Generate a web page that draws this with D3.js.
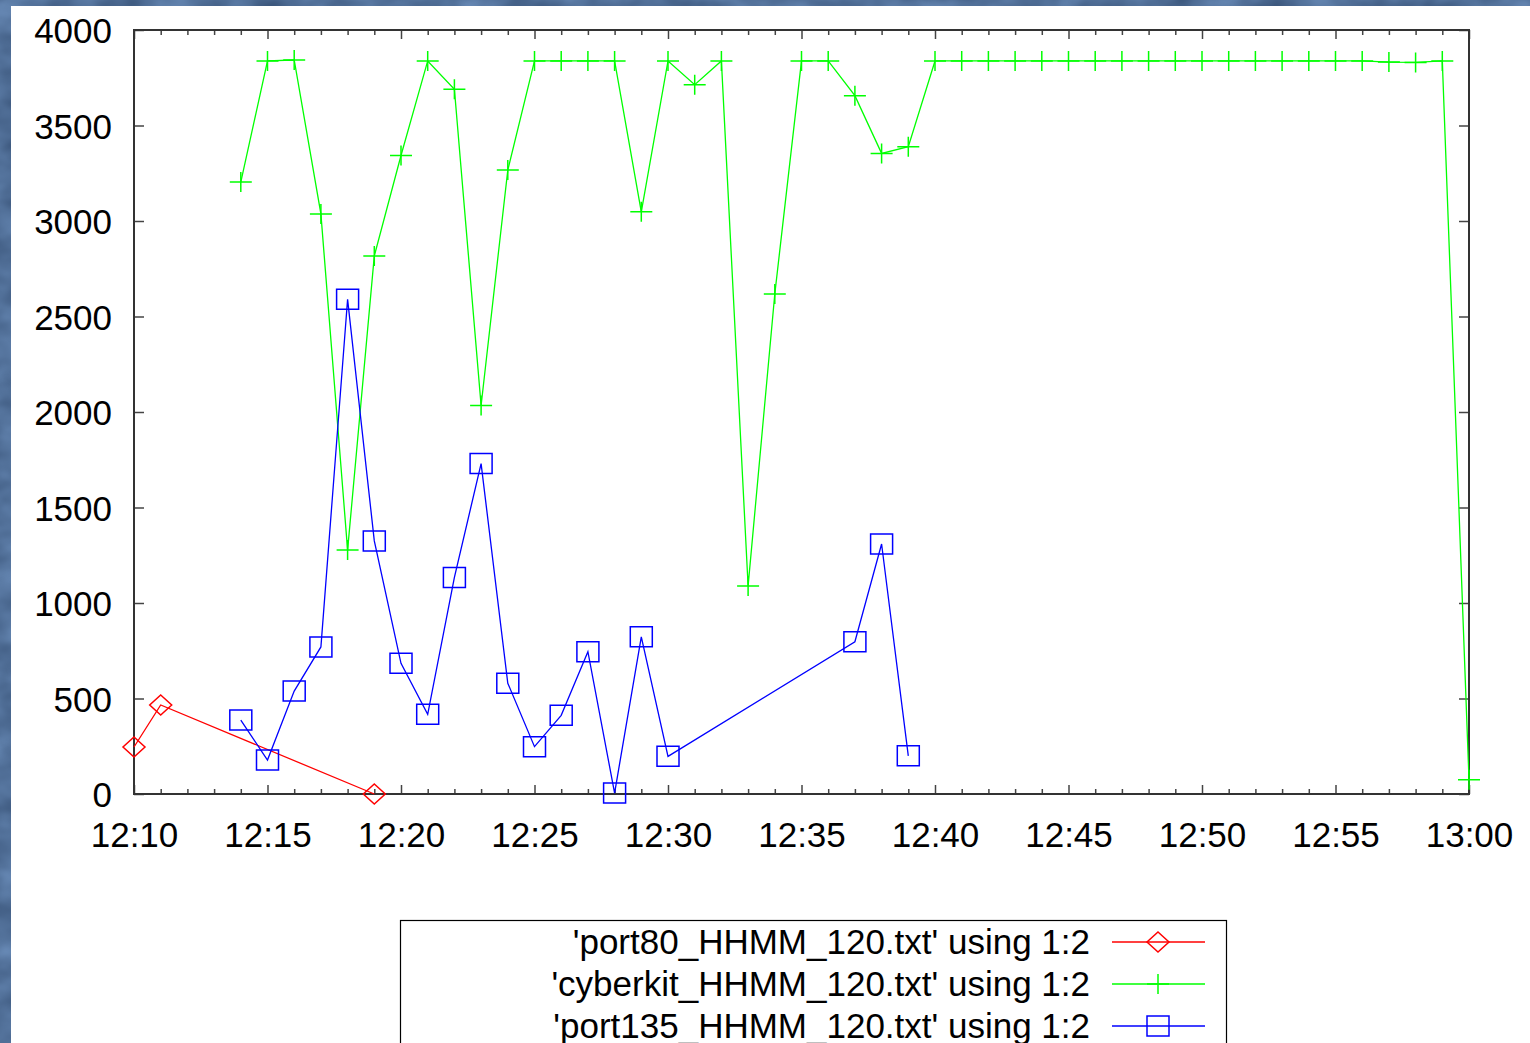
<!DOCTYPE html>
<html>
<head>
<meta charset="utf-8">
<script src="https://cdn.jsdelivr.net/npm/d3@7"></script>
<style>
  html, body { margin: 0; padding: 0; background: #fff; }
  svg { display: block; }
  text { font-family: "Liberation Sans", Arial, sans-serif; fill: #000; }
</style>
</head>
<body>
<script>
// ---------------- data ----------------
const port80Times  = ["12:10", "12:11", "12:19"];
const port80Values = [246, 466, 0];

const cyberkitTimes = [
  "12:14","12:15","12:16","12:17","12:18","12:19","12:20","12:21","12:22","12:23",
  "12:24","12:25","12:26","12:27","12:28","12:29","12:30","12:31","12:32","12:33",
  "12:34","12:35","12:36","12:37","12:38","12:39","12:40","12:41","12:42","12:43",
  "12:44","12:45","12:46","12:47","12:48","12:49","12:50","12:51","12:52","12:53",
  "12:54","12:55","12:56","12:57","12:58","12:59","13:00"];
const cyberkitValues = [
  3204, 3838, 3843, 3037, 1277, 2817, 3343, 3838, 3690, 2034,
  3267, 3838, 3838, 3838, 3838, 3048, 3838, 3714, 3838, 1089,
  2618, 3838, 3838, 3656, 3354, 3389, 3838, 3838, 3838, 3838,
  3838, 3838, 3838, 3838, 3838, 3838, 3838, 3838, 3838, 3838,
  3838, 3838, 3838, 3832, 3830, 3838, 75];

const port135Times = [
  "12:14","12:15","12:16","12:17","12:18","12:19","12:20","12:21","12:22","12:23",
  "12:24","12:25","12:26","12:27","12:28","12:29","12:30","12:37","12:38","12:39"];
const port135Values = [
  387, 178, 539, 770, 2590, 1325, 684, 417, 1134, 1730,
  580, 248, 412, 745, 5, 823, 197, 797, 1309, 200];

const seriesNames = [
  "'port80_HHMM_120.txt' using 1:2",
  "'cyberkit_HHMM_120.txt' using 1:2",
  "'port135_HHMM_120.txt' using 1:2"];

const xTickLabels = ["12:10","12:15","12:20","12:25","12:30","12:35","12:40","12:45","12:50","12:55","13:00"];
const yTickLabels = ["0","500","1000","1500","2000","2500","3000","3500","4000"];

// ---------------- setup ----------------
const W = 1530, H = 1043;
const L = 134, R = 1469, T = 30, B = 794;
const parse = d3.timeParse("%H:%M");

const svg = d3.select("body").append("svg").attr("width", W).attr("height", H);

// textured blue background
const defs = svg.append("defs");
const filt = defs.append("filter").attr("id", "tex").attr("x", 0).attr("y", 0).attr("width", 1).attr("height", 1)
  .attr("color-interpolation-filters", "sRGB");
filt.append("feTurbulence").attr("type", "fractalNoise").attr("baseFrequency", "0.02 0.03").attr("numOctaves", 3).attr("seed", 4).attr("result", "n");
filt.append("feColorMatrix").attr("in", "n").attr("type", "matrix")
  .attr("values", "0.26 0 0 0 0.19  0.30 0 0 0 0.29  0.34 0 0 0 0.43  0 0 0 0 1");
svg.append("rect").attr("width", W).attr("height", H).attr("fill", "#52759d");
svg.append("rect").attr("width", W).attr("height", H).attr("filter", "url(#tex)");
svg.append("rect").attr("x", 11).attr("y", 6).attr("width", W - 11).attr("height", H - 6).attr("fill", "#fff");

const x = d3.scaleTime().domain([parse(xTickLabels[0]), parse(xTickLabels[xTickLabels.length - 1])]).range([L, R]);
const y = d3.scaleLinear().domain([0, 4000]).range([B, T]);

const majorX = xTickLabels.map(parse);
const minorX = x.ticks(d3.timeMinute.every(1)).filter(d => d.getMinutes() % 5 !== 0);
const yVals = yTickLabels.map(Number);

function styleAxis(g) {
  g.select(".domain").remove();
  g.selectAll(".tick line").attr("stroke", "#444").attr("stroke-width", 1.5);
}

// bottom
svg.append("g").attr("transform", `translate(0,${B})`)
  .call(d3.axisBottom(x).tickValues(majorX).tickFormat((d, i) => xTickLabels[i]).tickSize(-9).tickPadding(28))
  .call(styleAxis)
  .call(g => g.selectAll("text").attr("font-size", 35).attr("font-family", "Liberation Sans, Arial, sans-serif").attr("fill", "#000"));
svg.append("g").attr("transform", `translate(0,${B})`)
  .call(d3.axisBottom(x).tickValues(minorX).tickFormat("").tickSize(-5))
  .call(styleAxis);
// top
svg.append("g").attr("transform", `translate(0,${T})`)
  .call(d3.axisTop(x).tickValues(majorX).tickFormat("").tickSize(-9))
  .call(styleAxis);
svg.append("g").attr("transform", `translate(0,${T})`)
  .call(d3.axisTop(x).tickValues(minorX).tickFormat("").tickSize(-5))
  .call(styleAxis);
// left
svg.append("g").attr("transform", `translate(${L},0)`)
  .call(d3.axisLeft(y).tickValues(yVals).tickFormat((d, i) => yTickLabels[i]).tickSize(-10).tickPadding(22))
  .call(styleAxis)
  .call(g => g.selectAll("text").attr("font-size", 35).attr("font-family", "Liberation Sans, Arial, sans-serif").attr("fill", "#000").attr("dy", "0.36em"));
// right
svg.append("g").attr("transform", `translate(${R},0)`)
  .call(d3.axisRight(y).tickValues(yVals).tickFormat("").tickSize(-10))
  .call(styleAxis);

// border
svg.append("rect").attr("x", L).attr("y", T).attr("width", R - L).attr("height", B - T)
  .attr("fill", "none").attr("stroke", "#333").attr("stroke-width", 2);

// ---------------- series ----------------
const series = [
  { times: port80Times, values: port80Values, color: "#ff0000", marker: "diamond" },
  { times: cyberkitTimes, values: cyberkitValues, color: "#00ff00", marker: "plus" },
  { times: port135Times, values: port135Values, color: "#0000ff", marker: "square" }
];

const markerPath = {
  diamond: "M0,-10L11,0L0,10L-11,0Z",
  plus: "M-11,0H11M0,-10V10",
  square: "M-11,-10H11V10H-11Z"
};

const line = d3.line().x(d => x(d.t)).y(d => y(d.v));

series.forEach(s => {
  const pts = s.times.map((t, i) => ({ t: parse(t), v: s.values[i] }));
  svg.append("path").datum(pts).attr("d", line)
    .attr("fill", "none").attr("stroke", s.color).attr("stroke-width", 1.3);
  svg.append("g").selectAll("path").data(pts).join("path")
    .attr("transform", d => `translate(${x(d.t)},${y(d.v)})`)
    .attr("d", markerPath[s.marker])
    .attr("fill", "none").attr("stroke", s.color).attr("stroke-width", 1.5);
});

// ---------------- legend ----------------
svg.append("rect").attr("x", 400.5).attr("y", 920.5).attr("width", 826).attr("height", 200)
  .attr("fill", "#fff").attr("stroke", "#000").attr("stroke-width", 1.2);
series.forEach((s, i) => {
  const cy = 942 + i * 42;
  svg.append("text").attr("x", 1090).attr("y", cy + 12).attr("text-anchor", "end")
    .attr("font-size", 35).text(seriesNames[i]);
  svg.append("line").attr("x1", 1112).attr("x2", 1205).attr("y1", cy).attr("y2", cy)
    .attr("stroke", s.color).attr("stroke-width", 1.3);
  svg.append("path").attr("transform", `translate(1158,${cy})`).attr("d", markerPath[s.marker])
    .attr("fill", "none").attr("stroke", s.color).attr("stroke-width", 1.5);
});
</script>
</body>
</html>
